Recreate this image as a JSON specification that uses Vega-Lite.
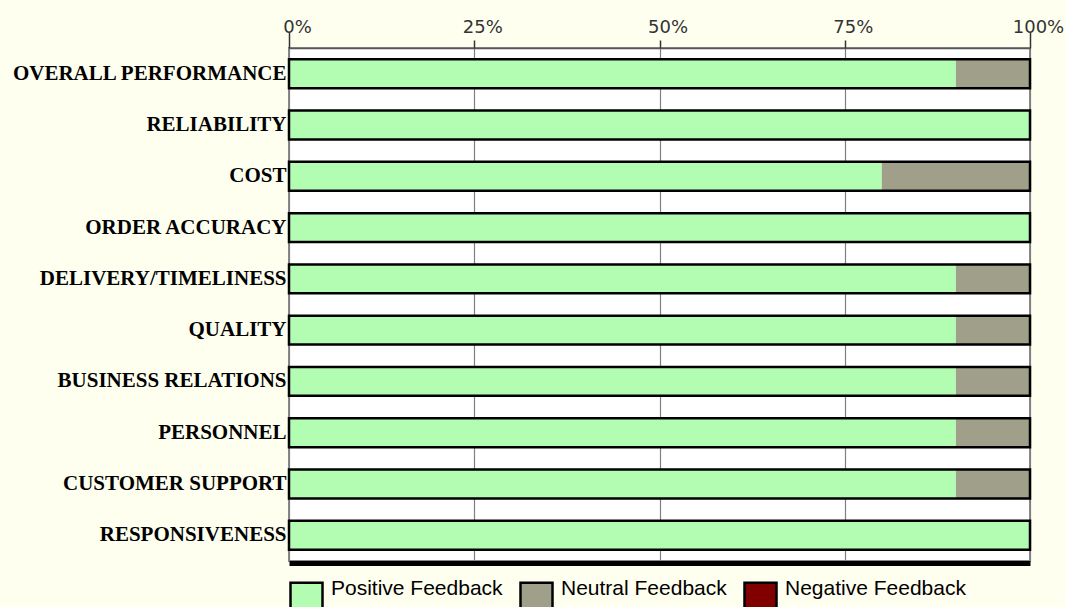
{
  "$schema": "https://vega.github.io/schema/vega-lite/v6.json",
  "width": 741,
  "height": 513,
  "autosize": "none",
  "padding": {"left": 289, "top": 48, "right": 36, "bottom": 46},
  "background": "#FFFFF0",
  "config": {"view": {"fill": "white", "stroke": "#8a8a8a", "strokeWidth": 2}},
  "data": {
    "values": [
      {"category": "OVERALL PERFORMANCE", "type": "Positive Feedback", "pct": 90},
      {"category": "OVERALL PERFORMANCE", "type": "Neutral Feedback", "pct": 10},
      {"category": "OVERALL PERFORMANCE", "type": "Negative Feedback", "pct": 0},
      {"category": "RELIABILITY", "type": "Positive Feedback", "pct": 100},
      {"category": "RELIABILITY", "type": "Neutral Feedback", "pct": 0},
      {"category": "RELIABILITY", "type": "Negative Feedback", "pct": 0},
      {"category": "COST", "type": "Positive Feedback", "pct": 80},
      {"category": "COST", "type": "Neutral Feedback", "pct": 20},
      {"category": "COST", "type": "Negative Feedback", "pct": 0},
      {"category": "ORDER ACCURACY", "type": "Positive Feedback", "pct": 100},
      {"category": "ORDER ACCURACY", "type": "Neutral Feedback", "pct": 0},
      {"category": "ORDER ACCURACY", "type": "Negative Feedback", "pct": 0},
      {"category": "DELIVERY/TIMELINESS", "type": "Positive Feedback", "pct": 90},
      {"category": "DELIVERY/TIMELINESS", "type": "Neutral Feedback", "pct": 10},
      {"category": "DELIVERY/TIMELINESS", "type": "Negative Feedback", "pct": 0},
      {"category": "QUALITY", "type": "Positive Feedback", "pct": 90},
      {"category": "QUALITY", "type": "Neutral Feedback", "pct": 10},
      {"category": "QUALITY", "type": "Negative Feedback", "pct": 0},
      {"category": "BUSINESS RELATIONS", "type": "Positive Feedback", "pct": 90},
      {"category": "BUSINESS RELATIONS", "type": "Neutral Feedback", "pct": 10},
      {"category": "BUSINESS RELATIONS", "type": "Negative Feedback", "pct": 0},
      {"category": "PERSONNEL", "type": "Positive Feedback", "pct": 90},
      {"category": "PERSONNEL", "type": "Neutral Feedback", "pct": 10},
      {"category": "PERSONNEL", "type": "Negative Feedback", "pct": 0},
      {"category": "CUSTOMER SUPPORT", "type": "Positive Feedback", "pct": 90},
      {"category": "CUSTOMER SUPPORT", "type": "Neutral Feedback", "pct": 10},
      {"category": "CUSTOMER SUPPORT", "type": "Negative Feedback", "pct": 0},
      {"category": "RESPONSIVENESS", "type": "Positive Feedback", "pct": 100},
      {"category": "RESPONSIVENESS", "type": "Neutral Feedback", "pct": 0},
      {"category": "RESPONSIVENESS", "type": "Negative Feedback", "pct": 0}
    ]
  },
  "encoding": {
    "y": {
      "field": "category",
      "type": "nominal",
      "sort": ["OVERALL PERFORMANCE", "RELIABILITY", "COST", "ORDER ACCURACY", "DELIVERY/TIMELINESS", "QUALITY", "BUSINESS RELATIONS", "PERSONNEL", "CUSTOMER SUPPORT", "RESPONSIVENESS"],
      "scale": {"paddingInner": 0.437, "paddingOuter": 0.22},
      "axis": {
        "title": null,
        "domain": false,
        "ticks": false,
        "labelFont": "Liberation Serif",
        "labelFontWeight": "bold",
        "labelFontSize": 21,
        "labelColor": "black",
        "labelPadding": 3,
        "labelLimit": 400
      }
    }
  },
  "layer": [
    {
      "mark": {"type": "bar"},
      "encoding": {
        "x": {
          "field": "pct",
          "type": "quantitative",
          "stack": "zero",
          "scale": {"domain": [0, 100], "nice": false},
          "axis": {
            "orient": "top",
            "values": [0, 25, 50, 75, 100],
            "labelExpr": "datum.value + '%'",
            "title": null,
            "grid": true,
            "gridColor": "#808080",
            "gridWidth": 1.2,
            "domainColor": "#555555",
            "domainWidth": 1.5,
            "tickColor": "#333333",
            "tickWidth": 1.5,
            "tickSize": {"condition": {"test": "datum.value == 0 || datum.value == 100", "value": 16}, "value": 8},
            "labelPadding": {"condition": {"test": "datum.value == 0 || datum.value == 100", "value": -4}, "value": 4},
            "labelBaseline": "bottom",
            "labelFont": "DejaVu Sans",
            "labelFontSize": 18,
            "labelColor": "#333333",
            "labelOffset": 8,
            "labelFlush": false
          }
        },
        "color": {
          "field": "type",
          "type": "nominal",
          "scale": {
            "domain": ["Positive Feedback", "Neutral Feedback", "Negative Feedback"],
            "range": ["#B3FDB3", "#A0A08A", "#800000"]
          },
          "legend": {
            "orient": "none",
            "legendX": 0,
            "legendY": 533,
            "direction": "horizontal",
            "title": null,
            "symbolType": "square",
            "symbolSize": 1024,
            "symbolStrokeColor": "black",
            "symbolStrokeWidth": 2.5,
            "symbolOpacity": 1,
            "labelFont": "Liberation Sans",
            "labelFontSize": 21,
            "labelColor": "black",
            "labelOffset": 7,
            "columnPadding": 12,
            "labelBaseline": "bottom",
            "labelLimit": 300,
            "padding": 0
          }
        },
        "order": {"field": "type", "sort": "descending"}
      }
    },
    {
      "transform": [
        {"aggregate": [{"op": "sum", "field": "pct", "as": "total"}], "groupby": ["category"]}
      ],
      "mark": {"type": "bar", "fill": "transparent", "stroke": "black", "strokeWidth": 2.5},
      "encoding": {
        "x": {
          "field": "total",
          "type": "quantitative",
          "axis": {
            "orient": "bottom",
            "title": null,
            "domain": true,
            "domainColor": "black",
            "domainWidth": 5,
            "ticks": false,
            "labels": false,
            "grid": false,
            "offset": 2
          }
        }
      }
    }
  ],
  "resolve": {"axis": {"x": "independent"}}
}
